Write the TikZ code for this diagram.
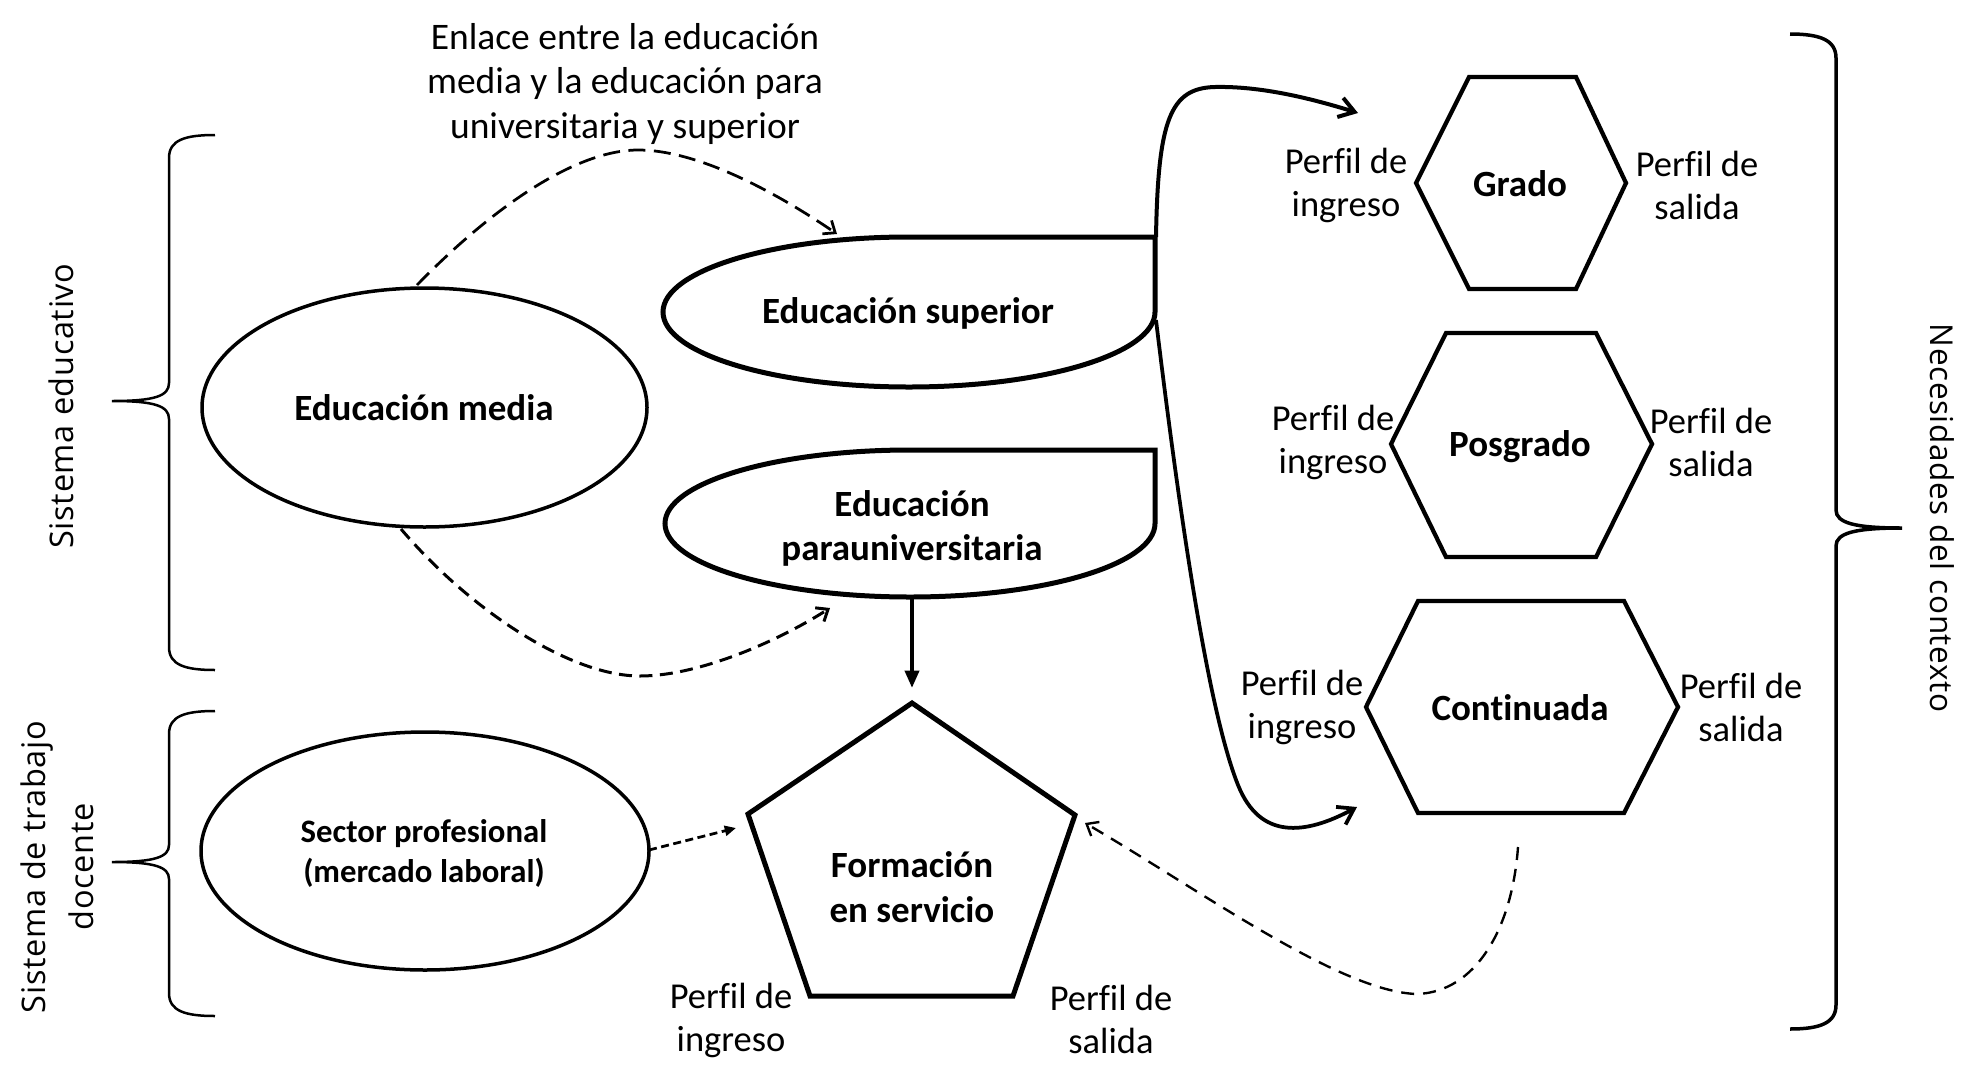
\documentclass[tikz,border=0pt]{standalone}
\usepackage{fontspec}
\setmainfont[Ligatures=CommonOff]{Carlito}
\newfontfamily\vfont[LetterSpace=2]{Open Sans}
\usetikzlibrary{arrows.meta}
\begin{document}
\begin{tikzpicture}[x=0.4pt,y=-0.4pt,
  lbl/.style={font=\fontsize{14.6}{17.2}\selectfont, align=center, inner sep=0pt},
  bld/.style={font=\bfseries\fontsize{14.8}{17.6}\selectfont, align=center, inner sep=0pt},
  vlbl/.style={font=\vfont\fontsize{13}{19.2}\selectfont, align=center, inner sep=0pt},
  ellline/.style={line width=1.4pt},
  boxline/.style={line width=2pt, line join=miter},
  hexline/.style={line width=1.7pt, line join=miter},
  braceline/.style={line width=1pt},
  solidarrow/.style={line width=1.6pt, -{Straight Barb[length=6pt,width=8pt]}},
  dasharrow/.style={line width=1.1pt, -{Straight Barb[length=4pt,width=6.5pt]}}
]
\useasboundingbox (0,0) rectangle (1980,1087);

% ---------- braces ----------
\draw[braceline] (215,135) .. controls (185,135) and (169,140) .. (169,158) -- (169,383)
  .. controls (169,396) and (155,401) .. (112,401) .. controls (155,401) and (169,406) .. (169,419)
  -- (169,647) .. controls (169,665) and (185,670) .. (215,670);
\draw[braceline] (215,711) .. controls (185,711) and (169,716) .. (169,734) -- (169,845)
  .. controls (169,857) and (155,862) .. (112,862) .. controls (155,862) and (169,867) .. (169,879)
  -- (169,993) .. controls (169,1011) and (185,1016) .. (215,1016);
\draw[line width=1.4pt] (1790,34) .. controls (1820,34) and (1836,40) .. (1836,58) -- (1836,510)
  .. controls (1836,523) and (1855,528) .. (1902,528) .. controls (1855,528) and (1836,533) .. (1836,546)
  -- (1836,1005) .. controls (1836,1023) and (1820,1029) .. (1790,1029);

\node[vlbl, rotate=90] (sisedu) at (61,406) {Sistema educativo};
\node[vlbl, rotate=90] (sistrab) at (57,867) {Sistema de trabajo\\docente};
\node[vlbl, rotate=-90, font=\vfont\fontsize{12.6}{19.2}\selectfont] (necesidades) at (1942,518) {Necesidades del contexto};

% ---------- ellipses ----------
\draw[ellline] (424.5,407.5) ellipse [x radius=222.5, y radius=119.5];
\node[bld] (media) at (424,408) {Educación media};

\draw[ellline] (425,851) ellipse [x radius=224, y radius=119];
\node[font=\bfseries\fontsize{13.1}{16}\selectfont, align=center, inner sep=0pt] (sector) at (424,853) {Sector profesional\\(mercado laboral)};

% ---------- superior / parauniversitaria ----------
\draw[boxline] (1155,237) -- (909,237) .. controls (773.1,237) and (663,270.6) .. (663,312)
  .. controls (663,353.4) and (773.1,387) .. (909,387) .. controls (1044.9,387) and (1155,353.4) .. (1155,312) -- cycle;
\node[bld] (sup) at (908,313) {Educación superior};

\draw[boxline] (1155,450) -- (910,450) .. controls (774.7,450) and (665,482.9) .. (665,523.5)
  .. controls (665,564.1) and (774.7,597) .. (910,597) .. controls (1045.3,597) and (1155,564.1) .. (1155,523.5) -- cycle;
\node[bld] (para) at (912,528) {Educación\\parauniversitaria};

% ---------- pentagon ----------
\draw[boxline] (912,703) -- (1075,815) -- (1013,996) -- (810,996) -- (748,814) -- cycle;
\node[bld, font=\bfseries\fontsize{14.8}{18}\selectfont] (formacion) at (912,887) {Formación\\en servicio};
\node[lbl] (fingreso) at (731,1020) {Perfil de\\ingreso};
\node[lbl] (fsalida) at (1111,1019) {Perfil de\\salida};

% ---------- hexagons ----------
\draw[hexline] (1469,77) -- (1576,77) -- (1626,183) -- (1576,289) -- (1469,289) -- (1416,183) -- cycle;
\node[bld] (grado) at (1520,184) {Grado};
\node[lbl] (gingreso) at (1346,185) {Perfil de\\ingreso};
\node[lbl] (gsalida) at (1697,185) {Perfil de\\salida};

\draw[hexline] (1446,333) -- (1596,333) -- (1652,444) -- (1596,557) -- (1446,557) -- (1391,444) -- cycle;
\node[bld] (posgrado) at (1520,447) {Posgrado};
\node[lbl] (pingreso) at (1333,442) {Perfil de\\ingreso};
\node[lbl] (psalida) at (1711,442) {Perfil de\\salida};

\draw[hexline] (1418,601) -- (1624,601) -- (1678,707) -- (1624,813) -- (1418,813) -- (1366,707) -- cycle;
\node[bld] (continuada) at (1520,708) {Continuada};
\node[lbl] (cingreso) at (1302,707) {Perfil de\\ingreso};
\node[lbl] (csalida) at (1741,707) {Perfil de\\salida};

% ---------- top label ----------
\node[font=\fontsize{15}{17.8}\selectfont, align=center, inner sep=0pt] (enlace) at (625,84)
  {Enlace entre la educación\\media y la educación para\\universitaria y superior};

% ---------- connector end points ----------
\coordinate (mediaTop) at (417,285);
\coordinate (supTopIn) at (837,234);
\coordinate (mediaBot) at (401,529);
\coordinate (paraIn) at (830,608);
\coordinate (supTR) at (1156,237);
\coordinate (supR) at (1156,320);
\coordinate (gradoIn) at (1358,113);
\coordinate (contIn) at (1357,807);
\coordinate (paraBot) at (912,597);
\coordinate (formTop) at (912,688);
\coordinate (sectorR) at (649,850);
\coordinate (formL) at (736,828);
\coordinate (contBot) at (1518,847);
\coordinate (formR) at (1085,823);

% ---------- connectors ----------
\draw[dasharrow, dash pattern=on 6.8pt off 3.4pt] (mediaTop) .. controls (500,200) and (580,150) .. (638,150)
  .. controls (700,150) and (780,195) .. (supTopIn);
\draw[dasharrow, line width=1.2pt, dash pattern=on 5.2pt off 3pt] (mediaBot) .. controls (470,610) and (570,676) .. (640,676)
  .. controls (700,676) and (780,640) .. (paraIn);
\draw[solidarrow] (supTR) .. controls (1158,120) and (1170,88) .. (1215,87)
  .. controls (1260,86) and (1310,98) .. (gradoIn);
\draw[solidarrow, line width=1.5pt] (supR) .. controls (1185,560) and (1212,720) .. (1238,785)
  .. controls (1260,840) and (1305,835) .. (contIn);
\draw[line width=1.6pt, -{Triangle[length=7pt,width=5.6pt]}] (paraBot) -- (formTop);
\draw[line width=1.1pt, dash pattern=on 3.2pt off 1.8pt, -{Triangle[length=4.5pt,width=4pt]}] (sectorR) -- (formL);
\draw[line width=0.95pt, dash pattern=on 5.2pt off 3.6pt, -{Straight Barb[length=4pt,width=6.5pt]}]
  (contBot) .. controls (1512,930) and (1475,992) .. (1417,994)
  .. controls (1340,992) and (1200,890) .. (formR);
\end{tikzpicture}
\end{document}
